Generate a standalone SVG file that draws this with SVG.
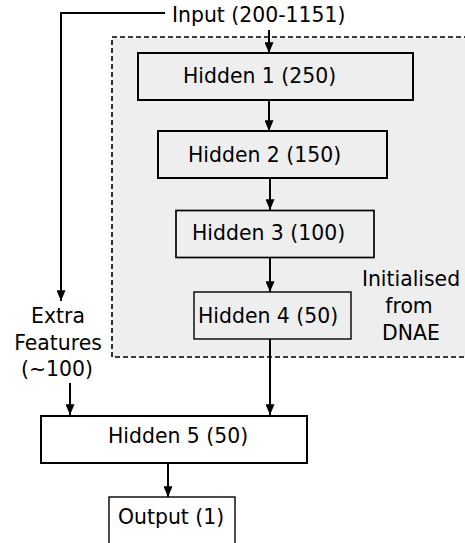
<svg xmlns="http://www.w3.org/2000/svg" width="465" height="543" viewBox="0 0 465 543">
  <style>
    text { font-family: "DejaVu Sans", "Liberation Sans", sans-serif; font-size: 20.4px; fill: #000; }
    .box { fill: none; stroke: #000; stroke-width: 2; }
    .thin { stroke-width: 1.4; }
    .conn { fill: none; stroke: #000; stroke-width: 2; }
  </style>
  <defs>
    <marker id="arr" viewBox="0 0 10 10" refX="10" refY="5" markerWidth="5" markerHeight="5" markerUnits="userSpaceOnUse" orient="auto">
      <path d="M0,0 L10,5 L0,10 z" fill="#000"/>
    </marker>
    <marker id="arrow" viewBox="0 0 12 10" refX="12" refY="5" markerWidth="12" markerHeight="9" markerUnits="userSpaceOnUse" orient="auto">
      <path d="M0,0 L12,5 L0,10 z" fill="#000"/>
    </marker>
  </defs>

  <g id="dnae-region">
    <rect x="112" y="37" width="400" height="320" fill="#eeeeee" stroke="#000" stroke-width="1.6" stroke-dasharray="5,3"/>
    <text x="411" y="286" text-anchor="middle">Initialised</text>
    <text x="409" y="313" text-anchor="middle">from</text>
    <text x="411" y="340" text-anchor="middle">DNAE</text>
  </g>

  <g id="connectors">
    <path class="conn" d="M269,30 L269,53" marker-end="url(#arrow)"/>
    <path class="conn" d="M165,13 L61,13 L61,301" marker-end="url(#arrow)"/>
    <path class="conn" d="M269,100 L269,131" marker-end="url(#arrow)"/>
    <path class="conn" d="M270,178 L270,210" marker-end="url(#arrow)"/>
    <path class="conn" d="M270,258 L270,292" marker-end="url(#arrow)"/>
    <path class="conn" d="M270,339 L270,415" marker-end="url(#arrow)"/>
    <path class="conn" d="M70,383 L70,415" marker-end="url(#arrow)"/>
    <path class="conn" d="M168,463 L168,497" marker-end="url(#arrow)"/>
  </g>

  <g id="input">
    <text x="172" y="22">Input (200-1151)</text>
  </g>

  <g id="extra-features">
    <text x="58" y="323" text-anchor="middle">Extra</text>
    <text x="58" y="350" text-anchor="middle">Features</text>
    <text x="57" y="376" text-anchor="middle">(~100)</text>
  </g>

  <g id="hidden1">
    <rect class="box" x="138" y="53" width="275" height="47" fill="#eeeeee"/>
    <text x="183" y="82.5">Hidden 1 (250)</text>
  </g>
  <g id="hidden2">
    <rect class="box" x="158" y="131" width="229" height="47"/>
    <text x="188" y="162">Hidden 2 (150)</text>
  </g>
  <g id="hidden3">
    <rect class="box" x="176" y="210.5" width="198" height="47" style="stroke-width:1.7"/>
    <text x="192" y="240">Hidden 3 (100)</text>
  </g>
  <g id="hidden4">
    <rect class="box thin" x="194" y="292" width="157" height="47"/>
    <text x="198" y="323">Hidden 4 (50)</text>
  </g>
  <g id="hidden5">
    <rect class="box" x="41" y="416" width="266" height="47"/>
    <text x="108" y="443">Hidden 5 (50)</text>
  </g>
  <g id="output">
    <rect class="box thin" x="109" y="497" width="126" height="60" fill="#fff"/>
    <text x="118" y="524">Output (1)</text>
  </g>
</svg>
